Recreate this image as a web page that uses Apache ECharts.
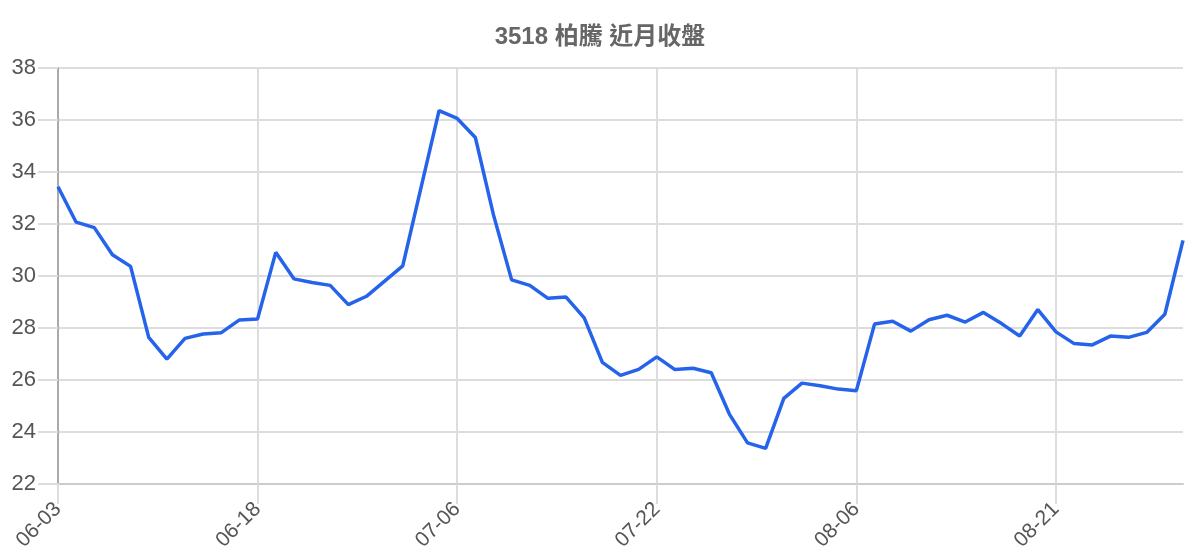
<!DOCTYPE html>
<html>
<head>
<meta charset="utf-8">
<script src="https://cdn.jsdelivr.net/npm/echarts@6/dist/echarts.min.js"></script>
<style>
html,body{margin:0;padding:0;background:#fff;}
#chart{width:1200px;height:560px;}
</style>
</head>
<body>
<div id="chart"></div>
<script>
const titleText = '3518 柏騰 近月收盤';
const dates = [
  '06-03','06-04','06-05','06-06','06-09','06-10','06-11','06-12','06-13','06-16','06-17',
  '06-18','06-19','06-20','06-23','06-24','06-25','06-26','06-27','06-30','07-02','07-04',
  '07-06','07-07','07-08','07-09','07-10','07-11','07-14','07-15','07-16','07-17','07-18',
  '07-22','07-23','07-24','07-25','07-28','07-29','07-30','07-31','08-01','08-04','08-05',
  '08-06','08-07','08-08','08-11','08-12','08-13','08-14','08-15','08-18','08-19','08-20',
  '08-21','08-22','08-25','08-26','08-27','08-28','08-29','09-01'
];
const closes = [
  33.43,32.07,31.86,30.82,30.37,27.64,26.80,27.60,27.77,27.82,28.31,
  28.35,30.91,29.89,29.75,29.64,28.90,29.22,29.80,30.39,33.38,36.36,
  36.06,35.33,32.35,29.85,29.64,29.14,29.19,28.39,26.68,26.18,26.41,
  26.89,26.40,26.45,26.28,24.69,23.58,23.37,25.29,25.88,25.78,25.65,
  25.59,28.15,28.26,27.88,28.32,28.49,28.23,28.60,28.17,27.69,28.71,
  27.85,27.40,27.35,27.69,27.64,27.83,28.53,31.37
];
const yMin = 22, yMax = 38, yStep = 2;

const font = 'Liberation Sans, Arial, Noto Sans CJK TC, sans-serif';
const chart = echarts.init(document.getElementById('chart'), null, {renderer:'canvas'});
chart.setOption({
  animation: false,
  backgroundColor: '#ffffff',
  title: {
    text: titleText,
    left: 'center',
    top: 20,
    textStyle: {fontFamily: font, fontSize: 24, fontWeight: 'bold', color: '#666666'}
  },
  grid: {left: 58, right: 17, top: 68, bottom: 76, containLabel: false},
  xAxis: {
    type: 'category',
    data: dates,
    boundaryGap: false,
    axisLine: {show: true, lineStyle: {color: '#cccccc', width: 2}},
    axisTick: {show: true, interval: 10, length: 20, lineStyle: {color: '#dddddd', width: 2}},
    splitLine: {show: true, interval: 10, lineStyle: {color: '#dddddd', width: 2}},
    axisLabel: {interval: 10, rotate: 45, margin: 22, fontSize: 21, color: '#555555', fontFamily: font}
  },
  yAxis: {
    type: 'value',
    min: yMin, max: yMax, interval: yStep,
    axisLine: {show: true, lineStyle: {color: '#aaaaaa', width: 2}},
    axisTick: {show: true, length: 20, lineStyle: {color: '#dddddd', width: 2}},
    splitLine: {show: true, lineStyle: {color: '#dddddd', width: 2}},
    axisLabel: {margin: 22, fontSize: 22, color: '#555555', fontFamily: font}
  },
  series: [{
    type: 'line',
    data: closes,
    showSymbol: false,
    symbol: 'none',
    lineStyle: {color: '#2563eb', width: 3.5},
    itemStyle: {color: '#2563eb'}
  }]
});
</script>
</body>
</html>
